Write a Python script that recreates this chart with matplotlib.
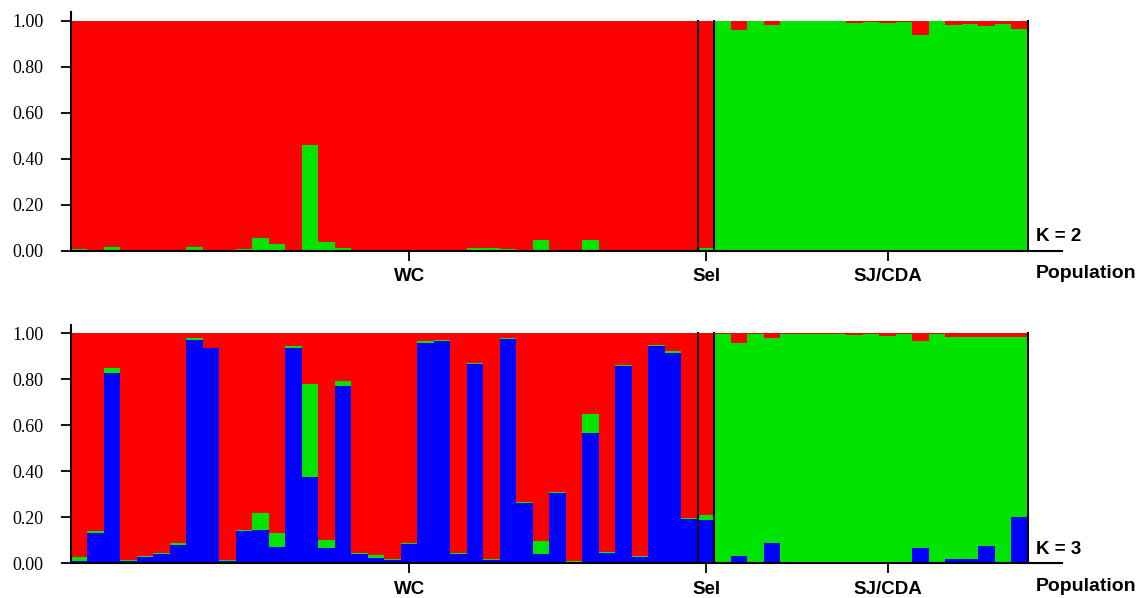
import numpy as np
import matplotlib.pyplot as plt

# Cores dos clusters
vermelho = '#ff0000'
verde = '#00e400'
azul = '#0000ff'

# Populações (nº de indivíduos em cada uma)
populacoes = ['WC', 'Sel', 'SJ/CDA']
n_ind = [38, 1, 19]
pos_rotulos = [20.5, 38.5, 49.5]  # posição dos rótulos no eixo x

### K = 2 ###
# proporção do cluster verde (vermelho = resto)
k2_verde_wc = [0.006, 0.002, 0.017, 0.002, 0.002, 0.002, 0.002, 0.017, 0.002, 0.003,
               0.006, 0.054, 0.030, 0.004, 0.461, 0.039, 0.010, 0.002, 0.002, 0.002,
               0.004, 0.004, 0.002, 0.002, 0.010, 0.010, 0.006, 0.002, 0.046, 0.002,
               0.002, 0.046, 0.002, 0.004, 0.002, 0.002, 0.004, 0.004]
k2_verde_sel = [0.012]
# proporção do cluster vermelho em SJ/CDA
k2_vermelho_sj = [0.003, 0.040, 0.003, 0.019, 0.002, 0.002, 0.002, 0.002, 0.010, 0.005,
                  0.010, 0.005, 0.062, 0.003, 0.019, 0.015, 0.023, 0.015, 0.035]

### K = 3 ###
k3_azul_wc = [0.011, 0.133, 0.829, 0.012, 0.026, 0.039, 0.081, 0.971, 0.935, 0.012,
              0.142, 0.145, 0.072, 0.935, 0.377, 0.068, 0.771, 0.040, 0.025, 0.014,
              0.084, 0.959, 0.967, 0.040, 0.865, 0.014, 0.974, 0.264, 0.039, 0.306,
              0.006, 0.568, 0.046, 0.858, 0.026, 0.945, 0.916, 0.191]
k3_verde_wc = [0.015, 0.007, 0.021, 0.002, 0.006, 0.006, 0.007, 0.008, 0.003, 0.002,
               0.004, 0.072, 0.061, 0.008, 0.401, 0.035, 0.020, 0.005, 0.011, 0.003,
               0.006, 0.006, 0.004, 0.005, 0.007, 0.004, 0.004, 0.004, 0.058, 0.004,
               0.005, 0.080, 0.002, 0.006, 0.004, 0.005, 0.006, 0.006]
k3_azul_sel = [0.188]
k3_verde_sel = [0.022]
k3_vermelho_sj = [0.004, 0.043, 0.004, 0.019, 0.003, 0.003, 0.003, 0.003, 0.006, 0.004,
                  0.012, 0.003, 0.033, 0.003, 0.017, 0.014, 0.017, 0.014, 0.017]
k3_azul_sj = [0.000, 0.032, 0.004, 0.090, 0.000, 0.000, 0.000, 0.000, 0.003, 0.003,
              0.003, 0.000, 0.067, 0.000, 0.017, 0.017, 0.074, 0.000, 0.203]

# Montando as matrizes (azul, verde, vermelho) por indivíduo
k2_verde = np.array(k2_verde_wc + k2_verde_sel + [1 - r for r in k2_vermelho_sj])
k2_azul = np.zeros(len(k2_verde))

sj_verde = [1 - r - b for r, b in zip(k3_vermelho_sj, k3_azul_sj)]
k3_azul = np.array(k3_azul_wc + k3_azul_sel + k3_azul_sj)
k3_verde = np.array(k3_verde_wc + k3_verde_sel + sj_verde)

n_total = sum(n_ind)
limites = np.cumsum(n_ind)  # 38, 39, 58
x_fim_linha = 60.06  # linha do eixo x vai além do gráfico

fig = plt.figure(figsize=(11.37, 5.98), dpi=100)
ax1 = fig.add_axes([0.0624, 0.5808, 0.8417, 0.3846])
ax2 = fig.add_axes([0.0624, 0.0580, 0.8417, 0.3846])


def desenha_painel(ax, azul_q, verde_q, texto_k):
    x = np.arange(n_total)
    vermelho_q = 1 - azul_q - verde_q
    ax.bar(x, azul_q, width=1, align='edge', color=azul, linewidth=0)
    ax.bar(x, verde_q, width=1, align='edge', bottom=azul_q, color=verde, linewidth=0)
    ax.bar(x, vermelho_q, width=1, align='edge', bottom=azul_q + verde_q,
           color=vermelho, linewidth=0)

    ax.set_xlim(0, n_total)
    ax.set_ylim(0, 1)
    for s in ax.spines.values():
        s.set_visible(False)

    # Linhas de eixo e separadores
    ax.plot([0, 0], [0, 1.038], color='black', lw=1.5, clip_on=False)
    ax.plot([0, x_fim_linha], [0, 0], color='black', lw=1.5, clip_on=False)
    for b in limites:
        ax.plot([b, b], [0, 1], color='black', lw=1.5, clip_on=False)

    # Eixo y
    ax.set_yticks(np.arange(0, 1.01, 0.2))
    ax.set_yticklabels(['%.2f' % v for v in np.arange(0, 1.01, 0.2)],
                       fontfamily='Liberation Serif', fontsize=13)
    ax.tick_params(axis='y', length=7.5, width=1.3, pad=12)

    # Eixo x: rótulos das populações
    ax.set_xticks(pos_rotulos)
    ax.set_xticklabels(populacoes, fontfamily='Liberation Sans',
                       fontweight='bold', fontsize=13.5)
    ax.tick_params(axis='x', length=7.5, width=1.3, pad=5)

    ax.text(58.5, 0.06, texto_k, fontfamily='Liberation Sans', fontweight='bold',
            fontsize=13.5, va='center', ha='left')
    ax.text(58.5, -0.1, 'Population', fontfamily='Liberation Sans',
            fontweight='bold', fontsize=14, va='center', ha='left', clip_on=False)


desenha_painel(ax1, k2_azul, k2_verde, 'K = 2')
desenha_painel(ax2, k3_azul, k3_verde, 'K = 3')

fig.savefig('out.png', dpi=100)
